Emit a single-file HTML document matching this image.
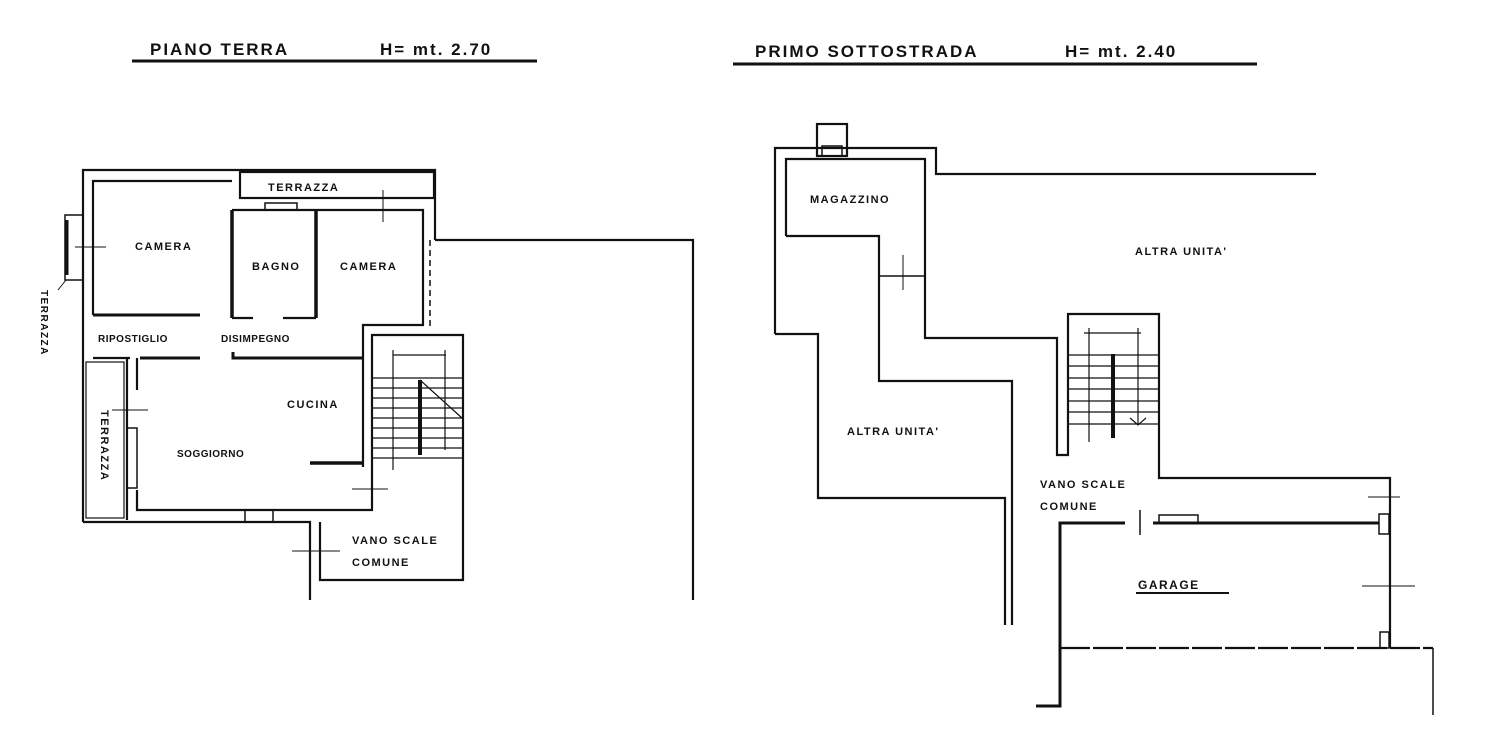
<!DOCTYPE html>
<html><head><meta charset="utf-8"><style>
html,body{margin:0;padding:0;background:#fff;}
svg{display:block;}
text{font-family:"Liberation Sans",sans-serif;font-weight:bold;fill:#111;}
</style></head><body>
<svg width="1500" height="744" viewBox="0 0 1500 744" xmlns="http://www.w3.org/2000/svg">
<g font-size="17" letter-spacing="2">
<text x="150" y="55">PIANO TERRA</text>
<text x="380" y="55">H= mt. 2.70</text>
<text x="755" y="57">PRIMO SOTTOSTRADA</text>
<text x="1065" y="57">H= mt. 2.40</text>
</g>
<line x1="132" y1="61" x2="537" y2="61" stroke="#111" stroke-width="3"/>
<line x1="733" y1="64" x2="1257" y2="64" stroke="#111" stroke-width="3"/>

<g fill="none" stroke="#111" stroke-width="2.2">
<!-- LEFT PLAN -->
<polyline points="83,522 83,170 435,170 435,240"/>
<polyline points="93,315 93,181 232,181"/>
<rect x="240" y="172" width="194" height="26"/>
<polyline points="232,210 423,210 423,325 363,325 363,467"/>
<rect x="265" y="203" width="32" height="7" stroke-width="1.5"/>
<line x1="232" y1="210" x2="232" y2="318" stroke-width="3.5"/>
<line x1="316" y1="210" x2="316" y2="318" stroke-width="3.5"/>
<line x1="232" y1="318" x2="253" y2="318"/>
<line x1="283" y1="318" x2="316" y2="318"/>
<line x1="93" y1="315" x2="200" y2="315" stroke-width="3"/>
<line x1="93" y1="358" x2="130" y2="358"/>
<line x1="140" y1="358" x2="200" y2="358" stroke-width="3"/>
<polyline points="233,352 233,358 363,358" stroke-width="3"/>
<polyline points="127,358 127,520"/>
<polyline points="137,358 137,390"/>
<rect x="127" y="428" width="10" height="60" stroke-width="1.5"/>
<rect x="86" y="362" width="38" height="156" stroke-width="1.2"/>
<polyline points="83,522 310,522 310,600"/>
<polyline points="137,490 137,510 372,510 372,335 463,335 463,580 320,580 320,522"/>
<rect x="245" y="510" width="28" height="12" stroke-width="1.5"/>
<line x1="310" y1="463" x2="363" y2="463" stroke-width="3.5"/>
<rect x="65" y="215" width="18" height="65" stroke-width="1.5"/>
<line x1="67" y1="220" x2="67" y2="275" stroke-width="3"/>
<line x1="66" y1="280" x2="58" y2="290" stroke-width="1"/>
<polyline points="435,240 693,240 693,600"/>
<line x1="430" y1="240" x2="430" y2="330" stroke-dasharray="6,4" stroke-width="1.5"/>
<g stroke-width="1.2">
<line x1="373" y1="378" x2="463" y2="378"/><line x1="373" y1="388" x2="463" y2="388"/>
<line x1="373" y1="398" x2="463" y2="398"/><line x1="373" y1="408" x2="463" y2="408"/>
<line x1="373" y1="418" x2="463" y2="418"/><line x1="373" y1="428" x2="463" y2="428"/>
<line x1="373" y1="438" x2="463" y2="438"/><line x1="373" y1="448" x2="463" y2="448"/>
<line x1="373" y1="458" x2="463" y2="458"/>
<line x1="393" y1="355" x2="446" y2="355"/>
<line x1="393" y1="350" x2="393" y2="470"/><line x1="445" y1="350" x2="445" y2="450"/>
<line x1="420" y1="380" x2="462" y2="418"/>
</g>
<line x1="420" y1="380" x2="420" y2="455" stroke-width="4"/>
<g stroke-width="1">
<line x1="75" y1="247" x2="106" y2="247"/><line x1="112" y1="410" x2="148" y2="410"/>
<line x1="383" y1="190" x2="383" y2="222"/><line x1="352" y1="489" x2="388" y2="489"/>
<line x1="292" y1="551" x2="340" y2="551"/>
</g>

<!-- RIGHT PLAN -->
<rect x="817" y="124" width="30" height="32"/>
<rect x="822" y="146" width="20" height="10" stroke-width="1.5"/>
<polyline points="775,334 775,148 936,148 936,174 1316,174"/>
<polyline points="786,236 786,159 925,159 925,338 1057,338 1057,455 1068,455 1068,314 1159,314 1159,478 1390,478 1390,648"/>
<polyline points="786,236 879,236 879,381 1012,381 1012,625"/>
<polyline points="775,334 818,334 818,498 1005,498 1005,625"/>
<line x1="880" y1="276" x2="924" y2="276" stroke-width="1.5"/>
<line x1="903" y1="255" x2="903" y2="290" stroke-width="1"/>
<polyline points="1125,523 1060,523 1060,706 1036,706" stroke-width="3"/>
<line x1="1153" y1="523" x2="1379" y2="523" stroke-width="3"/>
<rect x="1159" y="515" width="39" height="8" stroke-width="1.5"/>
<rect x="1379" y="514" width="10" height="20" stroke-width="1.5"/>
<rect x="1380" y="632" width="9" height="16" stroke-width="1.5"/>
<line x1="1060" y1="648" x2="1433" y2="648" stroke-dasharray="30,3"/>
<line x1="1433" y1="648" x2="1433" y2="715" stroke-width="1.5"/>
<line x1="1140" y1="510" x2="1140" y2="535" stroke-width="1.5"/>
<g stroke-width="1.2">
<line x1="1068" y1="355" x2="1159" y2="355"/><line x1="1068" y1="366" x2="1159" y2="366"/>
<line x1="1068" y1="378" x2="1159" y2="378"/><line x1="1068" y1="389" x2="1159" y2="389"/>
<line x1="1068" y1="401" x2="1159" y2="401"/><line x1="1068" y1="412" x2="1159" y2="412"/>
<line x1="1068" y1="424" x2="1159" y2="424"/>
<line x1="1084" y1="333" x2="1141" y2="333"/>
<line x1="1089" y1="328" x2="1089" y2="442"/><line x1="1138" y1="328" x2="1138" y2="425"/>
<polyline points="1130,418 1138,425 1146,418"/>
</g>
<line x1="1113" y1="354" x2="1113" y2="438" stroke-width="4"/>
<g stroke-width="1">
<line x1="1368" y1="497" x2="1400" y2="497"/><line x1="1362" y1="586" x2="1415" y2="586"/>
<line x1="1136" y1="593" x2="1229" y2="593" stroke-width="2"/>
</g>
</g>

<g font-size="11" letter-spacing="1.5">
<text x="268" y="191">TERRAZZA</text>
<text x="135" y="250">CAMERA</text>
<text x="252" y="270">BAGNO</text>
<text x="340" y="270">CAMERA</text>
<text x="98" y="342" font-size="10" letter-spacing="0.5">RIPOSTIGLIO</text>
<text x="221" y="342" font-size="10" letter-spacing="0.5">DISIMPEGNO</text>
<text x="287" y="408">CUCINA</text>
<text x="177" y="457" font-size="10" letter-spacing="0.5">SOGGIORNO</text>
<text x="352" y="544">VANO SCALE</text>
<text x="352" y="566">COMUNE</text>
<text transform="translate(101,410) rotate(90)">TERRAZZA</text>
<text transform="translate(41,290) rotate(90)" font-size="10">TERRAZZA</text>
<text x="810" y="203">MAGAZZINO</text>
<text x="1135" y="255">ALTRA   UNITA'</text>
<text x="847" y="435">ALTRA  UNITA'</text>
<text x="1040" y="488">VANO SCALE</text>
<text x="1040" y="510">COMUNE</text>
<text x="1138" y="589" font-size="12">GARAGE</text>
</g>
</svg>
</body></html>
